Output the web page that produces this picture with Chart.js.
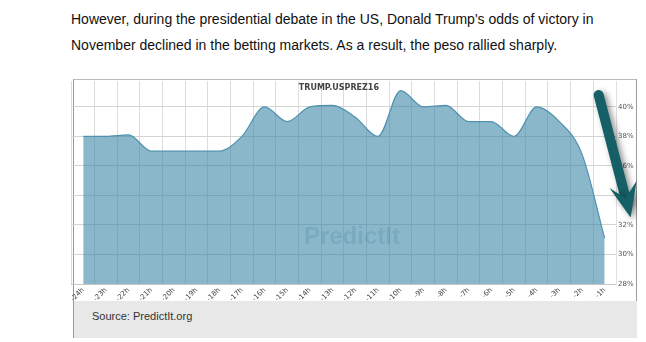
<!DOCTYPE html>
<html>
<head>
<meta charset="utf-8">
<script src="https://cdn.jsdelivr.net/npm/chart.js@4.4.1/dist/chart.umd.min.js"></script>
<style>
  body { margin: 0; background: #fff; font-family: 'Liberation Sans', Arial, sans-serif; }
  .line { position: absolute; left: 71px; font-size: 14px; color: #111; white-space: nowrap; }
  #frame { position: absolute; left: 73px; top: 79px; width: 564px; height: 259px; box-sizing: border-box; border: 1px solid #9a9a9a; border-top-color: #bbb; }
  #wrap { position: absolute; left: -4px; top: -1px; width: 567px; height: 222px; }
  #source { position: absolute; left: 0; top: 221px; width: 563px; height: 37px; background: #e8e8e8; font-size: 11px; color: #333; }
  #source span { position: absolute; left: 18px; top: 9px; }
</style>
</head>
<body>
<div class="line" style="top:11px">However, during the presidential debate in the US, Donald Trump's odds of victory in</div>
<div class="line" style="top:37px">November declined in the betting markets. As a result, the peso rallied sharply.</div>
<div id="frame">
  <div id="source"><span>Source: PredictIt.org</span></div>
  <div id="wrap"><canvas id="oddsChart"></canvas></div>
</div>
<script>
const hours = ['-24h', '-23h', '-22h', '-21h', '-20h', '-19h', '-18h', '-17h', '-16h', '-15h', '-14h', '-13h',
  '-12h', '-11h', '-10h', '-9h', '-8h', '-7h', '-6h', '-5h', '-4h', '-3h', '-2h', '-1h'];
const trumpOdds = [38.0, 38.0, 38.1, 37.0, 37.0, 37.0, 37.0, 38.0, 40.0, 39.0, 40.0, 40.1,
  39.3, 38.0, 41.1, 40.0, 40.1, 39.0, 39.0, 38.0, 40.0, 39.0, 36.8, 31.1];
const yTicks = [28, 30, 32, 34, 36, 38, 40];
const seriesName = 'TRUMP.USPREZ16';

// title, watermark and the big arrow
const decorations = {
  id: 'decorations',
  beforeDatasetsDraw(chart) {
    const { ctx, chartArea } = chart;
    ctx.save();
    ctx.font = 'bold 24px "Liberation Sans", Arial, sans-serif';
    ctx.fillStyle = 'rgba(80,110,125,0.2)';
    ctx.textBaseline = 'middle';
    ctx.fillText('PredictIt', chartArea.left + 232, chartArea.top + 156);
    ctx.restore();
  },
  afterDraw(chart) {
    const { ctx, chartArea, scales } = chart;
    ctx.save();
    ctx.font = 'bold 8px "DejaVu Sans", Verdana, sans-serif';
    ctx.fillStyle = '#444';
    ctx.textAlign = 'center';
    ctx.textBaseline = 'middle';
    ctx.fillText(seriesName, chartArea.left + 267, chartArea.top + 7);

    // arrow, anchored to the last hour
    const x0 = scales.x.getPixelForValue(hours.length - 1) - 6;
    const y0 = scales.y.getPixelForValue(40.8);
    const tipX = x0 + 32, tipY = scales.y.getPixelForValue(32.5);
    const ang = Math.atan2(tipY - y0, tipX - x0);
    const headLen = 30, shaftEnd = 18;
    const cx = Math.cos(ang), cy = Math.sin(ang);
    ctx.shadowColor = 'rgba(0,0,0,0.45)';
    ctx.shadowBlur = 6;
    ctx.shadowOffsetX = 3;
    ctx.shadowOffsetY = 2;
    ctx.strokeStyle = '#155f66';
    ctx.fillStyle = '#155f66';
    ctx.lineWidth = 10;
    ctx.lineCap = 'round';
    ctx.beginPath();
    ctx.moveTo(x0, y0);
    ctx.lineTo(tipX - cx * shaftEnd, tipY - cy * shaftEnd);
    ctx.stroke();
    const bx = tipX - cx * headLen, by = tipY - cy * headLen;
    const px = -cy, py = cx;
    ctx.beginPath();
    ctx.moveTo(tipX, tipY);
    ctx.lineTo(bx - px * 15 - cx * 4, by - py * 15 - cy * 4);
    ctx.lineTo(tipX - cx * 20, tipY - cy * 20);
    ctx.lineTo(bx + px * 13 - cx * 4, by + py * 13 - cy * 4);
    ctx.closePath();
    ctx.fill();
    ctx.restore();
  }
};

new Chart(document.getElementById('oddsChart'), {
  type: 'line',
  data: {
    labels: hours,
    datasets: [{
      label: seriesName,
      data: trumpOdds,
      borderColor: '#4f92b0',
      borderWidth: 1.2,
      backgroundColor: 'rgba(50,128,162,0.57)',
      fill: 'start',
      pointRadius: 0,
      cubicInterpolationMode: 'monotone',
    }]
  },
  options: {
    responsive: true,
    maintainAspectRatio: false,
    animation: false,
    layout: { padding: 0 },
    plugins: { legend: { display: false }, tooltip: { enabled: false } },
    scales: {
      x: {
        offset: true,
        grid: { offset: true, color: '#dcdcdc', drawTicks: false },
        border: { color: '#c8c8c8' },
        ticks: { autoSkip: false, minRotation: 45, maxRotation: 45, padding: 2, color: '#444', font: { size: 7, family: 'DejaVu Sans' } },
        afterFit(scale) { scale.height = 17; }
      },
      y: {
        position: 'right',
        min: 28,
        max: 41.75,
        afterBuildTicks(scale) { scale.ticks = yTicks.map((v) => ({ value: v })); },
        grid: { color: '#d4d4d4', drawTicks: false },
        border: { color: '#e0e0e0' },
        ticks: { padding: 2, color: '#555', font: { size: 7, family: 'DejaVu Sans', lineHeight: 0.01 }, callback: (v) => `${v}%` },
        afterFit(scale) { scale.width = 21; }
      }
    }
  },
  plugins: [decorations]
});
</script>
</body>
</html>
